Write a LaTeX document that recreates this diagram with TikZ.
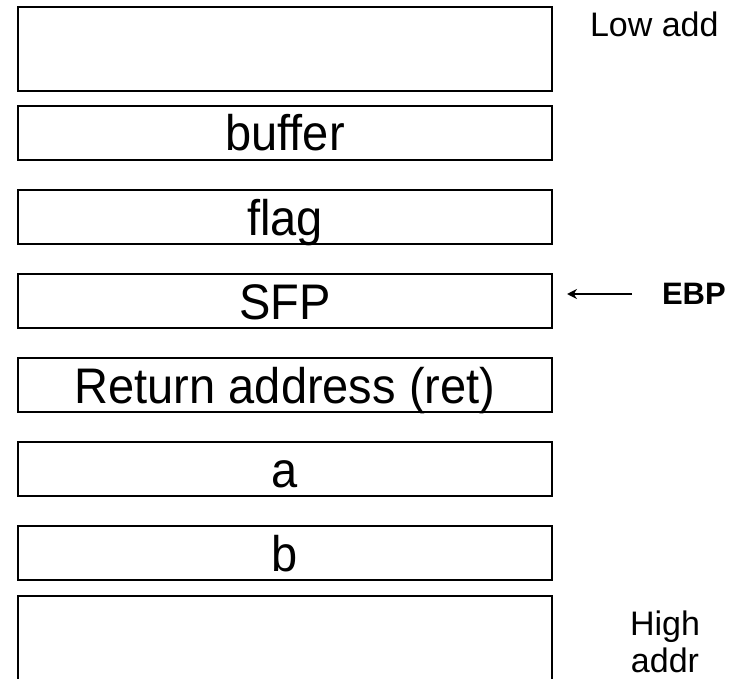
\documentclass[tikz,border=0pt]{standalone}
\usepackage{fontspec}
\setmainfont{Liberation Sans}
\newfontfamily\slotfont[FakeStretch=0.94]{Liberation Sans}
\usetikzlibrary{arrows.meta, positioning}

\begin{document}
\begin{tikzpicture}[x=1pt, y=1pt, >={Stealth[length=10pt, width=10pt]}, line width=1.5pt,
  every node/.style={inner sep=0pt, outer sep=0pt},
  slot/.style={draw, rectangle, minimum width=534pt, minimum height=54pt,
               text height=36pt, text depth=0pt, font=\slotfont\fontsize{50}{58}\selectfont},
  addr/.style={font=\fontsize{34}{37}\selectfont, align=center}]

  \useasboundingbox (0,0) rectangle (746,-679);

  % Stack slots
  \node (top) [slot, minimum height=84pt, anchor=north west] at (18,-7) {};
  \node (buffer) [slot, below=15pt of top] {buffer};
  \node (flag) [slot, below=30pt of buffer] {flag};
  \node (sfp) [slot, below=30pt of flag] {SFP};
  \node (ret) [slot, below=30pt of sfp] {Return address (ret)};
  \node (a) [slot, below=30pt of ret] {a};
  \node (b) [slot, below=30pt of a] {b};
  \node (bottom) [slot, minimum height=110pt, below=16pt of b] {};

  % Address labels
  \node (low) [addr, anchor=base west] at ([xshift=38pt, yshift=-30pt]top.north east) {Low add};
  \node (high) [addr, anchor=north] at ([xshift=113pt, yshift=-15pt]bottom.north east) {High\\addr};

  % Frame pointer
  \node (ebp) [font=\fontsize{31}{37}\selectfont\bfseries, anchor=west] at ([xshift=110pt, yshift=7pt]sfp.east) {EBP};
  \coordinate (ebptail) at ([xshift=-30pt]ebp.west);
  \coordinate (ebptip) at ([xshift=15pt, yshift=7pt]sfp.east);
  \draw[->] (ebptail) -- (ebptip);

\end{tikzpicture}
\end{document}
